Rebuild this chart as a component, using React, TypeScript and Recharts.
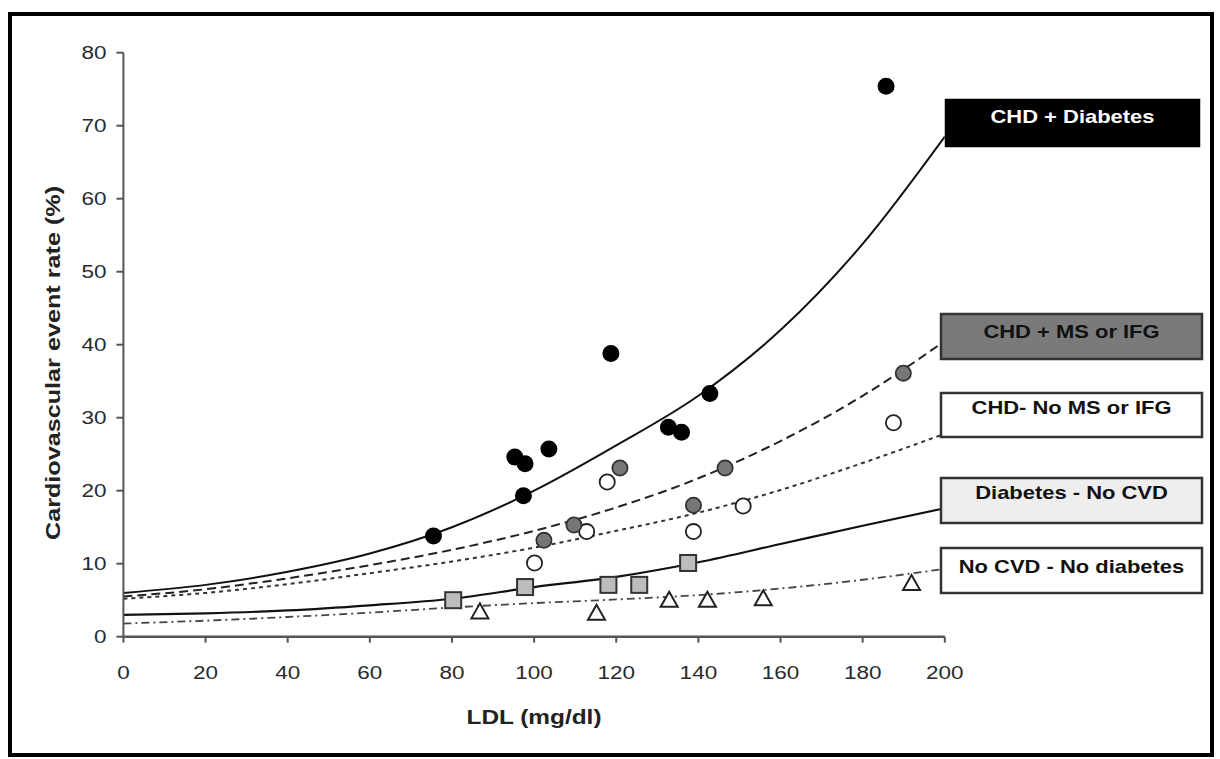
import { ComposedChart, Line, Scatter, XAxis, YAxis } from 'recharts';

const CURVE_X = [0, 20, 40, 60, 80, 100, 120, 140, 160, 180, 200];
const CHD_DIAB_FIT = [6.0, 7.1, 8.9, 11.4, 15.0, 20.0, 26.2, 33.0, 42.0, 53.8, 68.5];
const CHD_MS_FIT = [5.5, 6.5, 8.0, 9.8, 11.9, 14.5, 17.7, 21.7, 26.8, 33.0, 40.5];
const CHD_NOMS_FIT = [5.2, 6.0, 7.2, 8.7, 10.3, 12.2, 14.5, 17.0, 20.1, 23.8, 27.8];
const DIAB_FIT = [3.0, 3.2, 3.6, 4.3, 5.2, 6.8, 8.2, 10.2, 12.7, 15.2, 17.6];
const NOCVD_FIT = [1.8, 2.2, 2.7, 3.3, 4.0, 4.6, 5.1, 5.7, 6.6, 7.8, 9.3];

// trial points: LDL (x) and event rate (y)
const CHD_DIAB_X = [75.5, 95.3, 97.8, 97.4, 103.6, 118.7, 132.7, 135.9, 142.8, 185.7];
const CHD_DIAB_Y = [13.8, 24.6, 23.7, 19.3, 25.7, 38.8, 28.7, 28.0, 33.3, 75.4];
const CHD_MS_X = [102.4, 109.7, 120.9, 138.8, 146.5, 189.9];
const CHD_MS_Y = [13.2, 15.3, 23.1, 18.0, 23.1, 36.1];
const CHD_NOMS_X = [100.1, 112.8, 117.8, 138.8, 150.9, 187.5];
const CHD_NOMS_Y = [10.1, 14.4, 21.2, 14.4, 17.9, 29.3];
const DIAB_X = [80.3, 97.8, 118.1, 125.6, 137.5];
const DIAB_Y = [5.0, 6.8, 7.1, 7.1, 10.1];
const NOCVD_X = [86.8, 115.2, 132.9, 142.2, 155.8, 191.9];
const NOCVD_Y = [3.4, 3.2, 5.0, 5.0, 5.2, 7.3];

const X_TICKS = [0, 20, 40, 60, 80, 100, 120, 140, 160, 180, 200];
const Y_TICKS = [0, 10, 20, 30, 40, 50, 60, 70, 80];

const LABELS = ['CHD + Diabetes', 'CHD + MS or IFG', 'CHD- No MS or IFG', 'Diabetes - No CVD', 'No CVD - No diabetes'];

const FONT = '"Liberation Sans", Arial, sans-serif';

const pts = (xs: number[], ys: number[]) => xs.map((x, i) => ({ x, y: ys[i] }));
const curve = (ys: number[]) => CURVE_X.map((x, i) => ({ x, y: ys[i] }));

const XTick = (props: any) => {
  const { x, y, payload } = props;
  return (
    <g transform={`translate(${x},${y})`}>
      <text transform="scale(1.25,1)" y={36} textAnchor="middle" fontSize={18} fill="#2a2a2a" fontFamily={FONT}>
        {payload.value}
      </text>
    </g>
  );
};

const YTick = (props: any) => {
  const { x, y, payload } = props;
  return (
    <g transform={`translate(${x - 10},${y})`}>
      <text transform="scale(1.25,1)" y={6.5} textAnchor="end" fontSize={18} fill="#2a2a2a" fontFamily={FONT}>
        {payload.value}
      </text>
    </g>
  );
};

const circleShape = (fill: string, stroke: string) => (p: any) => (
  <circle cx={p.cx} cy={p.cy} r={7.6} fill={fill} stroke={stroke} strokeWidth={1.8} />
);

const squareShape = (p: any) => (
  <rect x={p.cx - 8} y={p.cy - 8} width={16} height={16} fill="#bdbdbd" stroke="#333" strokeWidth={2} />
);

const triangleShape = (p: any) => (
  <polygon
    points={`${p.cx},${p.cy - 8.5} ${p.cx - 8.5},${p.cy + 6.5} ${p.cx + 8.5},${p.cy + 6.5}`}
    fill="#fff"
    stroke="#222"
    strokeWidth={2}
  />
);

const boxes = [
  { x: 946, y: 100, w: 253, h: 46, fill: '#000', color: '#fff', ty: 123 },
  { x: 941, y: 314, w: 261, h: 45, fill: '#7a7a7a', color: '#111', ty: 338 },
  { x: 941, y: 393, w: 261, h: 44, fill: '#fff', color: '#111', ty: 414 },
  { x: 941, y: 478, w: 261, h: 45, fill: '#eeeeee', color: '#111', ty: 499 },
  { x: 941, y: 548, w: 261, h: 45, fill: '#fff', color: '#111', ty: 573 },
];

export default function App() {
  return (
    <div style={{ position: 'absolute', left: 0, top: 0, width: 1220, height: 759, background: '#fff' }}>
      <div
        style={{
          position: 'absolute',
          left: 8,
          top: 12,
          width: 1206,
          height: 745,
          border: '4px solid #000',
          boxSizing: 'border-box',
        }}
      />
      <div style={{ position: 'absolute', left: 0, top: 0 }}>
        <ComposedChart width={1220} height={759} margin={{ top: 52.7, right: 275.2, bottom: 82.3, left: 63.4 }}>
          <XAxis
            type="number"
            dataKey="x"
            domain={[0, 200]}
            ticks={X_TICKS}
            height={40}
            tickSize={6}
            tickMargin={0}
            tick={<XTick />}
            axisLine={{ stroke: '#555', strokeWidth: 2.5 }}
            tickLine={{ stroke: '#555', strokeWidth: 2 }}
            allowDataOverflow
          />
          <YAxis
            type="number"
            dataKey="y"
            domain={[0, 80]}
            ticks={Y_TICKS}
            width={60}
            tickSize={7}
            tickMargin={0}
            tick={<YTick />}
            axisLine={{ stroke: '#555', strokeWidth: 2 }}
            tickLine={{ stroke: '#555', strokeWidth: 2 }}
            allowDataOverflow
          />
          <Line data={curve(CHD_DIAB_FIT)} dataKey="y" type="monotone" stroke="#111" strokeWidth={2} dot={false} isAnimationActive={false} />
          <Line data={curve(CHD_MS_FIT)} dataKey="y" type="monotone" stroke="#222" strokeWidth={2} strokeDasharray="9 5" dot={false} isAnimationActive={false} />
          <Line data={curve(CHD_NOMS_FIT)} dataKey="y" type="monotone" stroke="#333" strokeWidth={2} strokeDasharray="4 4" dot={false} isAnimationActive={false} />
          <Line data={curve(DIAB_FIT)} dataKey="y" type="monotone" stroke="#111" strokeWidth={2.2} dot={false} isAnimationActive={false} />
          <Line data={curve(NOCVD_FIT)} dataKey="y" type="monotone" stroke="#444" strokeWidth={1.8} strokeDasharray="8 4 2 4" dot={false} isAnimationActive={false} />
          <Scatter data={pts(DIAB_X, DIAB_Y)} dataKey="y" shape={squareShape} isAnimationActive={false} />
          <Scatter data={pts(NOCVD_X, NOCVD_Y)} dataKey="y" shape={triangleShape} isAnimationActive={false} />
          <Scatter data={pts(CHD_NOMS_X, CHD_NOMS_Y)} dataKey="y" shape={circleShape('#fff', '#222')} isAnimationActive={false} />
          <Scatter data={pts(CHD_MS_X, CHD_MS_Y)} dataKey="y" shape={circleShape('#777', '#333')} isAnimationActive={false} />
          <Scatter data={pts(CHD_DIAB_X, CHD_DIAB_Y)} dataKey="y" shape={circleShape('#000', '#000')} isAnimationActive={false} />
        </ComposedChart>
      </div>
      <svg width={1220} height={759} style={{ position: 'absolute', left: 0, top: 0, pointerEvents: 'none' }}>
        <g transform="translate(534,724)">
          <text transform="scale(1.22,1)" textAnchor="middle" fontSize={20} fontWeight="bold" fill="#222" fontFamily={FONT}>
            LDL (mg/dl)
          </text>
        </g>
        <g transform="translate(60,363) rotate(-90)">
          <text transform="scale(1.26,1)" textAnchor="middle" fontSize={20} fontWeight="bold" fill="#222" fontFamily={FONT}>
            Cardiovascular event rate (%)
          </text>
        </g>
        {boxes.map((b, i) => (
          <g key={LABELS[i]}>
            <rect x={b.x} y={b.y} width={b.w} height={b.h} fill={b.fill} stroke={i === 0 ? '#000' : '#333'} strokeWidth={2.5} />
            <g transform={`translate(${b.x + b.w / 2},${b.ty})`}>
              <text transform="scale(1.22,1)" textAnchor="middle" fontSize={18} fontWeight="bold" fill={b.color} fontFamily={FONT}>
                {LABELS[i]}
              </text>
            </g>
          </g>
        ))}
      </svg>
    </div>
  );
}
